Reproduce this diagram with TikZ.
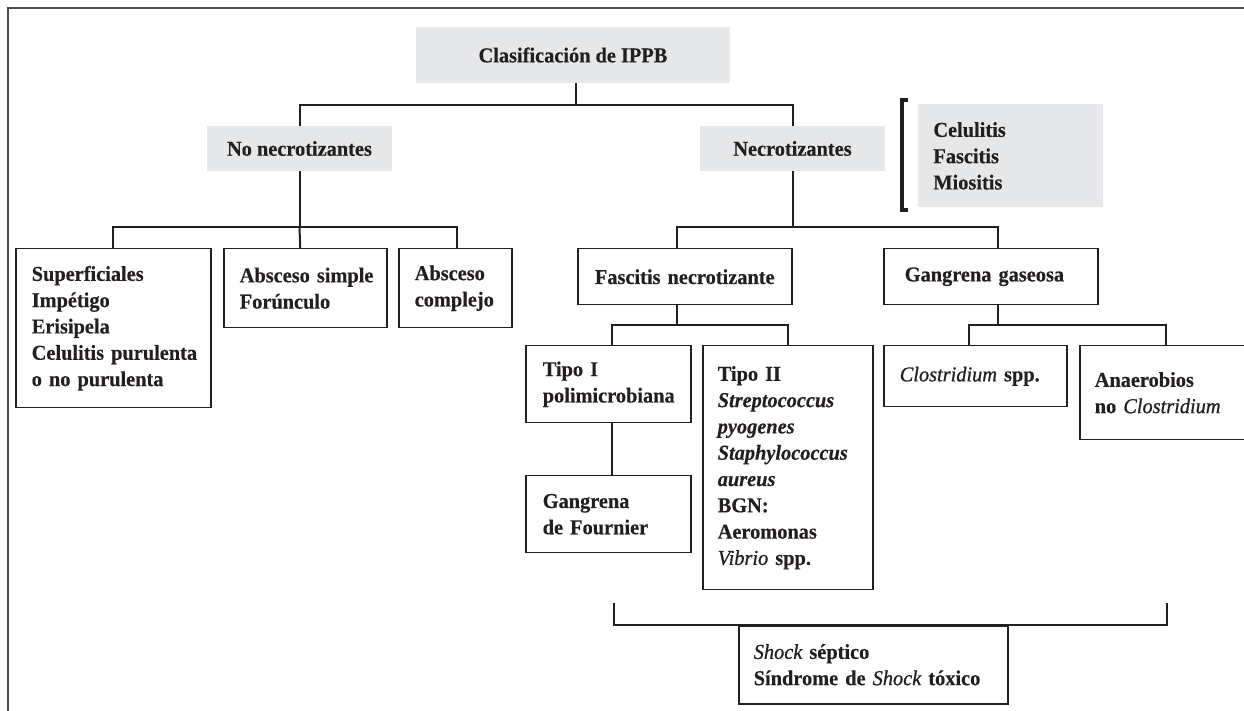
\documentclass[tikz,border=0pt]{standalone}
\usepackage{fontspec}
\setmainfont{Liberation Serif}[FakeStretch=0.96, BoldFeatures={FakeBold=0.4}, BoldItalicFeatures={FakeBold=0.4}, ItalicFeatures={FakeBold=0.8}]

\definecolor{ink}{HTML}{231F20}
\definecolor{shade}{HTML}{E6E7E8}
\definecolor{framegray}{HTML}{4D4D4D}

\hyphenpenalty=10000
\exhyphenpenalty=10000

\newcommand{\taxon}[1]{{\mdseries\itshape #1}}

\tikzset{
  lbl/.style={text=ink, font=\fontsize{10.6}{13.15}\selectfont\bfseries},
  head/.style={lbl, fill=shade, inner sep=0pt},
  cell/.style={lbl, draw=ink, line width=0.75pt, anchor=north west, align=left, inner ysep=0pt},
  link/.style={draw=ink, line width=1pt},
}

\begin{document}
\begin{tikzpicture}[x=0.5pt, y=-0.5pt]

\useasboundingbox (0,0) rectangle (1244,711);

\draw[framegray, line width=1pt] (1250,8) -- (8,8) -- (8,720);

\node[head, minimum width=157pt, minimum height=28pt] (root) at (573,55) {Clasificación de IPPB};
\node[head, minimum width=92.5pt, minimum height=22.5pt] (nonec) at (299.5,148.5) {No necrotizantes};
\node[head, minimum width=92.5pt, minimum height=22.5pt] (nec) at (792.5,148.5) {Necrotizantes};
\node[head, anchor=north west, align=left, inner xsep=7.5pt, text width=77.5pt, minimum height=51.5pt] (celu) at (918,104) {Celulitis\\Fascitis\\Miositis};

\node[cell, inner xsep=8pt, text width=81.5pt, minimum height=79.5pt] (sup) at (15,248) {Superficiales\\Impétigo\\Erisipela\\Celulitis~purulenta\\o no purulenta};
\node[cell, inner xsep=8pt, text width=65.5pt, minimum height=39.5pt] (simple) at (223,248) {Absceso~simple\\Forúnculo};
\node[cell, inner xsep=8pt, text width=40.5pt, minimum height=39.5pt] (complejo) at (398,248) {Absceso\\complejo};

\node[cell, align=center, inner xsep=7.5pt, text width=92pt, minimum height=28pt] (fasc) at (577,248) {Fascitis~necrotizante};
\node[cell, inner xsep=10.5pt, text width=86pt, minimum height=28pt] (gas) at (883,248) {Gangrena gaseosa};

\node[cell, inner xsep=8.5pt, text width=65.5pt, minimum height=38.5pt] (tipoa) at (525,345) {Tipo I\\polimicrobiana};
\node[cell, inner xsep=8.5pt, text width=65.5pt, minimum height=38.5pt] (fourn) at (525,475) {Gangrena\\de Fournier};
\node[cell, inner xsep=7.5pt, text width=70pt, minimum height=122pt] (tipob) at (702,345) {Tipo II\\\textit{Streptococcus}\\\textit{pyogenes}\\\textit{Staphylococcus}\\\textit{aureus}\\BGN:\\Aeromonas\\\taxon{Vibrio} spp.};
\node[cell, inner xsep=8pt, text width=75.5pt, minimum height=30.5pt] (clos) at (883,345) {\taxon{Clostridium} spp.};
\node[cell, inner xsep=7.5pt, text width=75pt, minimum height=47pt] (anae) at (1079,345) {Anaerobios\\no~\taxon{Clostridium}};

\node[cell, inner xsep=7.5pt, text width=119.5pt, minimum height=39pt] (shock) at (738,625) {\taxon{Shock} séptico\\Síndrome de \taxon{Shock} tóxico};

% bracket beside the gray list
\draw[ink, line width=1.6pt] (908,100) -| (902,210) -- (908,210);

\draw[link] ([xshift=1.5pt]root.south) -- ++(0,22) coordinate (tbus);
\draw[link] (nonec.north) |- (tbus) -| (nec.north);

\draw[link] (nonec.south) -- ++(0,56) coordinate (nbus);
\draw[link] (nbus) -- ([xshift=-2.5pt]simple.north);
\draw[link] (sup.north) |- (nbus) -| ([xshift=0.75pt]complejo.north);

\draw[link] (nec.south) -- ++(0,56) coordinate (rbus);
\draw[link] ([xshift=-4pt]fasc.north) |- (rbus) -| ([xshift=3.5pt]gas.north);

\draw[link] ([xshift=-4pt]fasc.south) -- ++(0,20) coordinate (fbus);
\draw[link] ([xshift=1.75pt]tipoa.north) |- (fbus) -| (tipob.north);
\draw[link] ([xshift=1.75pt]tipoa.south) -- ([xshift=1.75pt]fourn.north);

\draw[link] ([xshift=3.5pt]gas.south) -- ++(0,20) coordinate (gbus);
\draw[link] ([xshift=-3.25pt]clos.north) |- (gbus) -| ([xshift=-2pt]anae.north);

\coordinate (lend) at (614,603);
\coordinate (rend) at (1167,603);
\draw[link] (lend) |- (shock.north) -| (rend);

\end{tikzpicture}
\end{document}
